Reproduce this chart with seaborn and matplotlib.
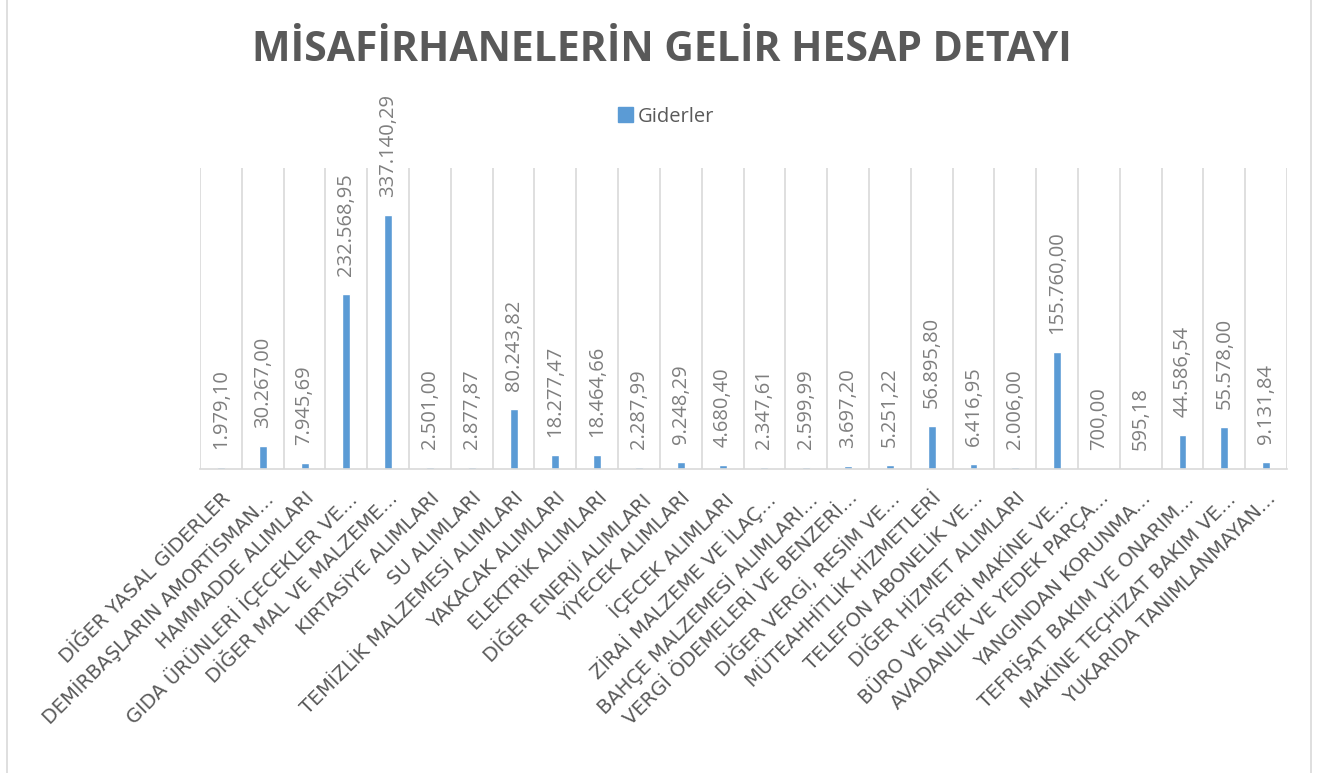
import matplotlib
matplotlib.use("Agg")
import matplotlib.pyplot as plt
import matplotlib.patches as mpatches
from matplotlib.ticker import FixedLocator
import pandas as pd
import seaborn as sns

# data
categories = [
    "DİĞER YASAL GİDERLER",
    "DEMİRBAŞLARIN AMORTİSMAN...",
    "HAMMADDE ALIMLARI",
    "GIDA ÜRÜNLERİ İÇECEKLER VE...",
    "DİĞER MAL VE MALZEME...",
    "KIRTASİYE ALIMLARI",
    "SU ALIMLARI",
    "TEMİZLİK MALZEMESİ ALIMLARI",
    "YAKACAK ALIMLARI",
    "ELEKTRİK ALIMLARI",
    "DİĞER ENERJİ ALIMLARI",
    "YİYECEK ALIMLARI",
    "İÇECEK ALIMLARI",
    "ZİRAİ MALZEME VE İLAÇ...",
    "BAHÇE MALZEMESİ ALIMLARI...",
    "VERGİ ÖDEMELERİ VE BENZERİ...",
    "DİĞER VERGİ, RESİM VE...",
    "MÜTEAHHİTLİK HİZMETLERİ",
    "TELEFON ABONELİK VE...",
    "DİĞER HİZMET ALIMLARI",
    "BÜRO VE İŞYERİ MAKİNE VE...",
    "AVADANLIK VE YEDEK PARÇA...",
    "YANGINDAN KORUNMA...",
    "TEFRİŞAT BAKIM VE ONARIM...",
    "MAKİNE TEÇHİZAT BAKIM VE...",
    "YUKARIDA TANIMLANMAYAN...",
]
giderler = [
    1979.10, 30267.00, 7945.69, 232568.95, 337140.29, 2501.00, 2877.87,
    80243.82, 18277.47, 18464.66, 2287.99, 9248.29, 4680.40, 2347.61,
    2599.99, 3697.20, 5251.22, 56895.80, 6416.95, 2006.00, 155760.00,
    700.00, 595.18, 44586.54, 55578.00, 9131.84,
]
series_name = "Giderler"
title = "MİSAFİRHANELERİN GELİR HESAP DETAYI"

BAR = "#5B9BD5"
GRID = "#D9D9D9"
TXT = "#595959"


def tr_format(v):
    # 1234.5 -> 1.234,50
    s = f"{v:,.2f}"
    return s.replace(",", "X").replace(".", ",").replace("X", ".")


sns.set_theme(style="white")
plt.rcParams["font.family"] = ["Open Sans", "DejaVu Sans"]

df = pd.DataFrame({"kalem": categories, "tutar": giderler})

fig = plt.figure(figsize=(13.3, 7.73), dpi=100)
ax = fig.add_axes([0.1504, 0.3933, 0.8173, 0.3894])

sns.barplot(data=df, x="kalem", y="tutar", color=BAR, width=0.19,
            saturation=1, ax=ax)

ax.set_xlim(-0.5, len(categories) - 0.5)
ax.set_ylim(0, 400000)
ax.set_yticks([])
ax.set_xlabel("")
ax.set_ylabel("")
for side in ["top", "left", "right"]:
    ax.spines[side].set_visible(False)
ax.spines["bottom"].set_color(GRID)
ax.spines["bottom"].set_linewidth(1.2)

# vertical separators between categories
ax.xaxis.set_minor_locator(FixedLocator([i - 0.5 for i in range(len(categories) + 1)]))
ax.grid(True, which="minor", axis="x", color=GRID, linewidth=1.2)
ax.grid(False, which="major")
ax.tick_params(axis="x", which="both", length=0)

ax.set_xticks(range(len(categories)))
ax.set_xticklabels(categories, rotation=45, ha="right", rotation_mode="anchor",
                   fontsize=14, color=TXT, family=["DejaVu Sans"])
ax.tick_params(axis="x", pad=14)

# value labels
for i, v in enumerate(giderler):
    ax.annotate(tr_format(v), (i, v), xytext=(0, 13), textcoords="offset points",
                rotation=90, ha="center", va="bottom", fontsize=14.5, color="#7F7F7F")

fig.text(0.4975, 0.935, title, ha="center", va="center", fontsize=29.5,
         fontweight="bold", color=TXT)

handle = mpatches.Patch(color=BAR, label=series_name)
fig.legend(handles=[handle], loc="center", bbox_to_anchor=(0.501, 0.849), frameon=False,
           fontsize=14.5, handlelength=0.75, handleheight=0.75, handletextpad=0.25,
           labelcolor=TXT)

# chart border
fig.add_artist(mpatches.Rectangle((7 / 1330, -0.01), (1311 - 7) / 1330, 1.02,
                                  transform=fig.transFigure, fill=False,
                                  edgecolor=GRID, linewidth=1.2))

fig.savefig("out.png", dpi=100)
